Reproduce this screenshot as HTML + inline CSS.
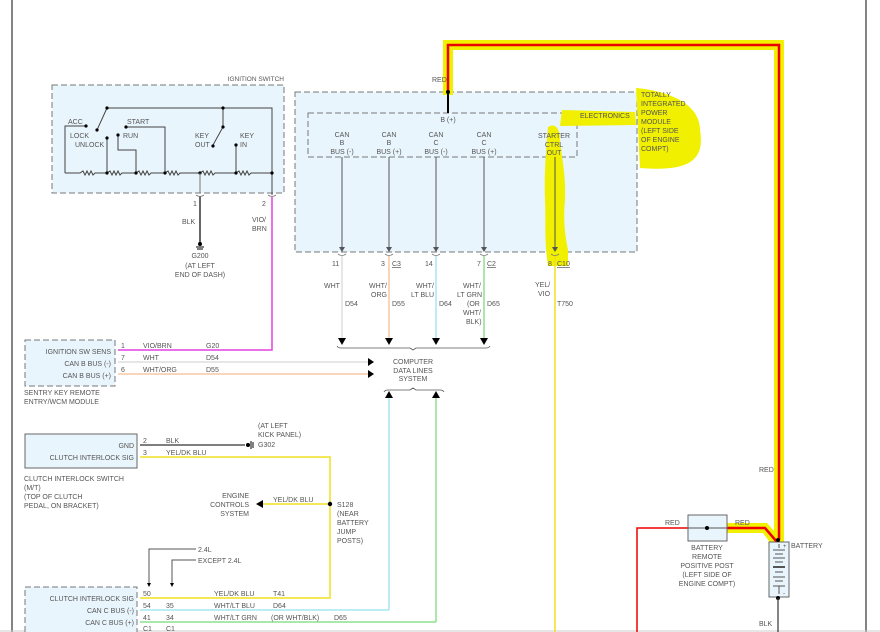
<!DOCTYPE html>
<html><head><meta charset="utf-8"><style>
html,body{margin:0;padding:0;background:#fff}
svg{display:block}
text{font-family:"Liberation Sans",sans-serif;font-size:7px;fill:#555}
</style></head><body>
<svg width="880" height="632" viewBox="0 0 880 632" xmlns="http://www.w3.org/2000/svg">
<!-- frame -->
<line x1="12" y1="0" x2="12" y2="632" stroke="#333" stroke-width="1.2"/>
<line x1="866" y1="0" x2="866" y2="632" stroke="#333" stroke-width="1.2"/>
<line x1="0" y1="631" x2="880" y2="631" stroke="#ccc" stroke-width="1"/>

<!-- TIPM boxes -->
<rect x="295" y="92" width="342" height="160" fill="#e9f5fc" stroke="#777" stroke-dasharray="6,3"/>
<rect x="308" y="113" width="269" height="44" fill="none" stroke="#777" stroke-dasharray="6,3"/>

<!-- yellow highlights -->
<g fill="#f0f000" stroke="none">
<path d="M443,40 L784,40 L784,545 L774,545 L774,50 L453,50 L453,95 L443,95 z"/>
<path d="M688,523 L767,523 L782,540 L774,548 L763,533 L688,533 z"/>
<path d="M562,110 L635,112 L636,125 L560,126 z"/>
<path d="M636,88 C660,90 700,100 700,130 C705,160 690,172 640,168 z"/>
<path d="M548,127 C556,122 560,130 560,140 C562,160 566,175 565,200 C563,220 565,235 568,250 L568,266 L548,266 C544,240 546,220 545,200 C544,175 546,150 548,127 z"/>
</g>
<!-- red main wire -->
<path d="M448,92 L448,45 L779,45 L779,540" fill="none" stroke="#e00" stroke-width="2.5"/>
<path d="M727,528 L765,528 L777,542" fill="none" stroke="#e00" stroke-width="2.5"/>
<path d="M688,528 L637,528 L637,632" fill="none" stroke="#e00" stroke-width="1.5"/>
<line x1="448" y1="92" x2="448" y2="113" stroke="#000" stroke-width="2"/>
<circle cx="448" cy="92" r="2" fill="#000"/>
<text x="432" y="82">RED</text>

<!-- IGNITION SWITCH -->
<text x="284" y="81" text-anchor="end" style="font-size:6.5px">IGNITION SWITCH</text>
<rect x="52" y="85" width="232" height="108" fill="#e9f5fc" stroke="#777" stroke-dasharray="6,3"/>
<g stroke="#444" stroke-width="1" fill="none">
<path d="M107,108 L272,108 L272,173"/>
<path d="M65,173 L65,126 L86,126"/>
<path d="M65,173 L80,173 l3,-2 l2,4 l2,-4 l2,4 l2,-4 l2,4 l2,-2 L107,173 l3,-2 l2,4 l2,-4 l2,4 l2,-4 l2,4 l2,-2 L136,173 l3,-2 l2,4 l2,-4 l2,4 l2,-4 l2,4 l2,-2 L165,173 l3,-2 l2,4 l2,-4 l2,4 l2,-4 l2,4 l2,-2 L200,173 l3,-2 l2,4 l2,-4 l2,4 l2,-4 l2,4 l2,-2 L236,173 l3,-2 l2,4 l2,-4 l2,4 l2,-4 l2,4 l2,-2 L272,173"/>
<path d="M107,108 L97,130"/>
<path d="M107,138 L107,173"/>
<path d="M118,135 L118,150 L136,150 L136,173"/>
<path d="M126,127 L165,127 L165,173"/>
<path d="M223,108 L223,127 L213,145"/>
<path d="M236,145 L236,173"/>
<path d="M272,173 L272,195"/>
</g>
<g fill="#000">
<circle cx="86" cy="126" r="1.6"/><circle cx="107" cy="108" r="1.6"/><circle cx="97" cy="130" r="1.6"/>
<circle cx="107" cy="138" r="1.6"/><circle cx="118" cy="135" r="1.6"/><circle cx="126" cy="127" r="1.6"/>
<circle cx="223" cy="108" r="1.6"/><circle cx="223" cy="127" r="1.6"/><circle cx="213" cy="146" r="1.6"/>
<circle cx="236" cy="145" r="1.6"/><circle cx="107" cy="173" r="1.6"/><circle cx="136" cy="173" r="1.6"/>
<circle cx="165" cy="173" r="1.6"/><circle cx="200" cy="173" r="1.6"/><circle cx="236" cy="173" r="1.6"/><circle cx="272" cy="173" r="1.6"/>
</g>
<text x="68" y="124">ACC</text><text x="127" y="124">START</text>
<text x="70" y="138">LOCK</text><text x="123" y="138">RUN</text>
<text x="75" y="147">UNLOCK</text>
<text x="195" y="138">KEY</text><text x="195" y="147">OUT</text>
<text x="240" y="138">KEY</text><text x="240" y="147">IN</text>
<text x="193" y="206">1</text><text x="262" y="206">2</text>
<text x="182" y="224">BLK</text>
<text x="252" y="222">VIO/</text><text x="252" y="231">BRN</text>
<line x1="200" y1="173" x2="200" y2="193" stroke="#777" stroke-width="1"/>
<line x1="200" y1="196" x2="200" y2="246" stroke="#333" stroke-width="1.5"/>
<circle cx="200" cy="244" r="2" fill="#000"/>
<line x1="196" y1="247" x2="204" y2="247" stroke="#000"/><line x1="197" y1="249" x2="203" y2="249" stroke="#000"/>
<text x="200" y="258" text-anchor="middle">G200</text>
<text x="200" y="268" text-anchor="middle">(AT LEFT</text>
<text x="200" y="277" text-anchor="middle">END OF DASH)</text>
<g fill="none" stroke="#777" stroke-width="0.8"><path d="M196,195 q4,3 8,0"/><path d="M268,195 q4,3 8,0"/></g>
<!-- VIO/BRN -->
<path d="M272,197 L272,350 L118,350" fill="none" stroke="#e040e0" stroke-width="1.5"/>

<!-- TIPM text -->
<text x="448" y="122" text-anchor="middle">B (+)</text>
<g text-anchor="middle">
<text x="342" y="137">CAN</text><text x="342" y="145">B</text><text x="342" y="154">BUS (-)</text>
<text x="389" y="137">CAN</text><text x="389" y="145">B</text><text x="389" y="154">BUS (+)</text>
<text x="436" y="137">CAN</text><text x="436" y="145">C</text><text x="436" y="154">BUS (-)</text>
<text x="484" y="137">CAN</text><text x="484" y="145">C</text><text x="484" y="154">BUS (+)</text>
<text x="554" y="138">STARTER</text><text x="554" y="147">CTRL</text><text x="554" y="155">OUT</text>
</g>
<text x="580" y="118">ELECTRONICS</text>
<text x="641" y="97">TOTALLY</text><text x="641" y="106">INTEGRATED</text><text x="641" y="115">POWER</text>
<text x="641" y="124">MODULE</text><text x="641" y="133">(LEFT SIDE</text><text x="641" y="142">OF ENGINE</text><text x="641" y="151">COMPT)</text>
<g stroke="#555" stroke-width="1">
<line x1="342" y1="157" x2="342" y2="250"/>
<line x1="389" y1="157" x2="389" y2="250"/>
<line x1="436" y1="157" x2="436" y2="250"/>
<line x1="484" y1="157" x2="484" y2="250"/>
<line x1="555" y1="157" x2="555" y2="250"/>
</g>
<g fill="#555">
<path d="M339,247 L345,247 L342,252z"/><path d="M386,247 L392,247 L389,252z"/><path d="M433,247 L439,247 L436,252z"/><path d="M481,247 L487,247 L484,252z"/><path d="M552,247 L558,247 L555,252z"/>
</g>
<g fill="none" stroke="#777" stroke-width="0.8">
<path d="M338,254 q4,3 8,0"/><path d="M385,254 q4,3 8,0"/><path d="M432,254 q4,3 8,0"/><path d="M480,254 q4,3 8,0"/><path d="M551,254 q4,3 8,0"/>
</g>
<line x1="342" y1="256" x2="342" y2="341" stroke="#ddd" stroke-width="1.5"/>
<line x1="389" y1="256" x2="389" y2="341" stroke="#f5c8a5" stroke-width="1.5"/>
<line x1="436" y1="256" x2="436" y2="341" stroke="#a8e6f2" stroke-width="1.5"/>
<line x1="484" y1="256" x2="484" y2="341" stroke="#8ee08e" stroke-width="1.5"/>
<line x1="555" y1="256" x2="555" y2="632" stroke="#f0e020" stroke-width="1.5"/>
<g fill="#000"><path d="M338,338 L346,338 L342,345z"/><path d="M385,338 L393,338 L389,345z"/><path d="M432,338 L440,338 L436,345z"/><path d="M480,338 L488,338 L484,345z"/></g>
<path d="M337,346 q1,2 4,2 L410,348 l3,2 l3,-2 L486,348 q3,0 4,-2" fill="none" stroke="#555" stroke-width="0.8"/>
<text x="332" y="266">11</text><text x="381" y="266">3</text><text x="392" y="266" text-decoration="underline">C3</text>
<text x="425" y="266">14</text><text x="477" y="266">7</text><text x="487" y="266" text-decoration="underline">C2</text>
<text x="548" y="266">8</text><text x="557" y="266" text-decoration="underline">C10</text>
<text x="324" y="288">WHT</text><text x="345" y="306">D54</text>
<text x="369" y="288">WHT/</text><text x="371" y="297">ORG</text><text x="392" y="306">D55</text>
<text x="416" y="288">WHT/</text><text x="411" y="297">LT BLU</text><text x="439" y="306">D64</text>
<text x="463" y="288">WHT/</text><text x="457" y="297">LT GRN</text><text x="467" y="306">(OR</text><text x="487" y="306">D65</text>
<text x="463" y="315">WHT/</text><text x="466" y="324">BLK)</text>
<text x="535" y="287">YEL/</text><text x="538" y="296">VIO</text><text x="557" y="306">T750</text>

<!-- computer data lines -->
<text x="413" y="364" text-anchor="middle">COMPUTER</text>
<text x="413" y="373" text-anchor="middle">DATA LINES</text>
<text x="413" y="381" text-anchor="middle">SYSTEM</text>
<path d="M384,392 q1,-2 4,-2 L410,390 l3,-2 l3,2 L440,390 q3,0 4,2" fill="none" stroke="#555" stroke-width="0.8"/>
<g fill="#000"><path d="M385,398 L393,398 L389,391z"/><path d="M432,398 L440,398 L436,391z"/>
<path d="M368,358 L374,362 L368,366z"/><path d="M368,370 L374,374 L368,378z"/></g>
<line x1="389" y1="398" x2="389" y2="610" stroke="#a8e6f2" stroke-width="1.5"/>
<line x1="436" y1="398" x2="436" y2="622" stroke="#8ee08e" stroke-width="1.5"/>

<!-- sentry -->
<rect x="25" y="340" width="90" height="46" fill="#e9f5fc" stroke="#777" stroke-dasharray="6,3"/>
<text x="111" y="354" text-anchor="end">IGNITION SW SENS</text>
<text x="111" y="366" text-anchor="end">CAN B BUS (-)</text>
<text x="111" y="378" text-anchor="end">CAN B BUS (+)</text>
<text x="24" y="395">SENTRY KEY REMOTE</text><text x="24" y="404">ENTRY/WCM MODULE</text>
<line x1="118" y1="362" x2="368" y2="362" stroke="#ddd" stroke-width="1.5"/>
<line x1="118" y1="374" x2="368" y2="374" stroke="#f5c8a5" stroke-width="1.5"/>
<text x="121" y="348">1</text><text x="143" y="348">VIO/BRN</text><text x="206" y="348">G20</text>
<text x="121" y="360">7</text><text x="143" y="360">WHT</text><text x="206" y="360">D54</text>
<text x="121" y="372">6</text><text x="143" y="372">WHT/ORG</text><text x="206" y="372">D55</text>

<!-- clutch switch -->
<rect x="25" y="434" width="112" height="34" fill="#e9f5fc" stroke="#666"/>
<text x="134" y="448" text-anchor="end">GND</text>
<text x="134" y="460" text-anchor="end">CLUTCH INTERLOCK SIG</text>
<text x="24" y="481">CLUTCH INTERLOCK SWITCH</text><text x="24" y="490">(M/T)</text>
<text x="24" y="499">(TOP OF CLUTCH</text><text x="24" y="508">PEDAL, ON BRACKET)</text>
<line x1="140" y1="445" x2="245" y2="445" stroke="#333" stroke-width="1.2"/>
<circle cx="248" cy="445" r="2" fill="#000"/>
<line x1="251" y1="441" x2="251" y2="449" stroke="#000"/><line x1="253" y1="442" x2="253" y2="448" stroke="#000"/>
<text x="258" y="428">(AT LEFT</text><text x="258" y="437">KICK PANEL)</text><text x="258" y="447">G302</text>
<text x="143" y="443">2</text><text x="166" y="443">BLK</text>
<text x="143" y="455">3</text><text x="166" y="455">YEL/DK BLU</text>
<path d="M140,457 L330,457 L330,598 L140,598" fill="none" stroke="#f0e020" stroke-width="1.5"/>
<line x1="330" y1="504" x2="262" y2="504" stroke="#f0e020" stroke-width="1.5"/>
<path d="M256,504 L263,500 L263,508z" fill="#000"/>
<circle cx="330" cy="504" r="2.2" fill="#000"/>
<text x="273" y="502">YEL/DK BLU</text>
<text x="249" y="498" text-anchor="end">ENGINE</text><text x="249" y="507" text-anchor="end">CONTROLS</text><text x="249" y="516" text-anchor="end">SYSTEM</text>
<text x="337" y="507">S128</text><text x="337" y="516">(NEAR</text><text x="337" y="525">BATTERY</text><text x="337" y="534">JUMP</text><text x="337" y="543">POSTS)</text>

<!-- 2.4L -->
<path d="M196,549 L149,549 L149,585" fill="none" stroke="#555"/>
<path d="M196,560 L172,560 L172,585" fill="none" stroke="#555"/>
<path d="M147,583 L151,583 L149,587z M170,583 L174,583 L172,587z" fill="#000"/>
<text x="198" y="552">2.4L</text><text x="198" y="563">EXCEPT 2.4L</text>

<!-- bottom module -->
<rect x="25" y="587" width="112" height="50" fill="#e9f5fc" stroke="#777" stroke-dasharray="6,3"/>
<text x="134" y="601" text-anchor="end">CLUTCH INTERLOCK SIG</text>
<text x="134" y="613" text-anchor="end">CAN C BUS (-)</text>
<text x="134" y="625" text-anchor="end">CAN C BUS (+)</text>
<line x1="140" y1="610" x2="389" y2="610" stroke="#a8e6f2" stroke-width="1.5"/>
<line x1="140" y1="622" x2="436" y2="622" stroke="#8ee08e" stroke-width="1.5"/>
<text x="143" y="596">50</text><text x="214" y="596">YEL/DK BLU</text><text x="273" y="596">T41</text>
<text x="143" y="608">54</text><text x="166" y="608">35</text><text x="214" y="608">WHT/LT BLU</text><text x="273" y="608">D64</text>
<text x="143" y="620">41</text><text x="166" y="620">34</text><text x="214" y="620">WHT/LT GRN</text><text x="271" y="620">(OR WHT/BLK)</text><text x="334" y="620">D65</text>
<text x="143" y="631">C1</text><text x="166" y="631">C1</text>

<!-- battery section -->
<text x="759" y="472">RED</text>
<text x="665" y="525">RED</text><text x="735" y="525">RED</text>
<rect x="688" y="515" width="39" height="26" fill="#e9f5fc" stroke="#666"/>
<line x1="688" y1="528" x2="727" y2="528" stroke="#555"/>
<circle cx="707" cy="528" r="2" fill="#000"/>
<g text-anchor="middle"><text x="707" y="550">BATTERY</text><text x="707" y="559">REMOTE</text><text x="707" y="568">POSITIVE POST</text><text x="707" y="577">(LEFT SIDE OF</text><text x="707" y="586">ENGINE COMPT)</text></g>
<rect x="769" y="542" width="20" height="55" fill="#e9f5fc" stroke="#666"/>
<circle cx="778" cy="540" r="2" fill="#000"/>
<g stroke="#555" stroke-width="1">
<line x1="779" y1="544" x2="779" y2="548"/>
<line x1="773" y1="550" x2="785" y2="550"/><line x1="775" y1="554" x2="783" y2="554"/>
<line x1="773" y1="558" x2="785" y2="558"/><line x1="775" y1="562" x2="783" y2="562"/>
<line x1="773" y1="567" x2="785" y2="567" stroke-width="2"/><line x1="775" y1="572" x2="783" y2="572"/>
<line x1="773" y1="577" x2="785" y2="577"/><line x1="775" y1="581" x2="783" y2="581"/>
<line x1="773" y1="586" x2="785" y2="586"/><line x1="779" y1="586" x2="779" y2="594"/>
</g>
<text x="783" y="548" style="font-size:6px">+</text><text x="783" y="595" style="font-size:6px">-</text>
<text x="791" y="548">BATTERY</text>
<circle cx="778" cy="598" r="2" fill="#000"/>
<line x1="778" y1="598" x2="778" y2="632" stroke="#333" stroke-width="1.2"/>
<text x="759" y="626">BLK</text>
</svg>
</body></html>
